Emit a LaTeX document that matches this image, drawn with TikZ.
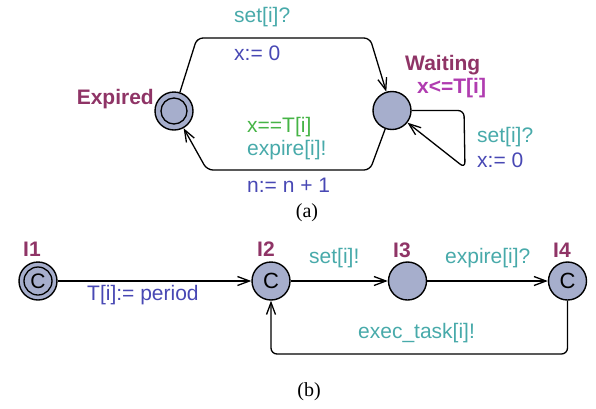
\documentclass[tikz,border=0pt]{standalone}
\usepackage{fontspec}
\setmainfont{Liberation Sans}
\newfontfamily\serifcap{Liberation Serif}
\usetikzlibrary{arrows.meta}
\definecolor{stfill}{RGB}{166,174,204}
\definecolor{tealc}{RGB}{72,170,170}
\definecolor{bluec}{RGB}{72,72,180}
\definecolor{greenc}{RGB}{70,180,70}
\definecolor{namec}{RGB}{143,52,102}
\definecolor{invc}{RGB}{176,60,176}
\begin{document}
\begin{tikzpicture}[x=1pt,y=-1pt,
  font=\fontsize{21}{25}\selectfont,
  state/.style={circle,draw=black,line width=1.4pt,fill=stfill,minimum size=38pt,inner sep=0pt},
  edge/.style={line width=1.3pt,rounded corners=6pt,-{Straight Barb[length=12pt,width=9pt,line width=1.3pt]}},
  lbl/.style={anchor=west,inner sep=0pt},
  sync/.style={lbl,text=tealc},
  upd/.style={lbl,text=bluec},
  guard/.style={lbl,text=greenc},
  sname/.style={lbl,text=namec,font=\fontsize{21}{25}\selectfont\bfseries},
  inv/.style={lbl,text=invc,font=\fontsize{21}{25}\selectfont\bfseries},
  committed/.style={font=\fontsize{22}{26}\selectfont},
  subcap/.style={font=\fontsize{20}{24}\serifcap}]
\useasboundingbox (0,0) rectangle (596,408);
% (a)
\node[state] (exp) at (174,111) {};
\draw[line width=1.3pt] (exp.center) circle (13pt);
\node[state] (wait) at (392,110.5) {};
\coordinate (t1) at (197,38);
\coordinate (t2) at (370,38);
\coordinate (b1) at (370,170);
\coordinate (b2) at (207,170);
\coordinate (s1) at (464,110.5);
\coordinate (s2) at (465,168);
\draw[edge] (exp) -- (t1) -- (t2) -- (wait);
\draw[edge] (wait) -- (b1) -- (b2) -- (exp);
\draw[edge] (wait.east) -- (s1) -- (s2) -- (wait);
\node[sname,anchor=east] (lexp) at (154,99) {Expired};
\node[sname] (lwait) at (405,65) {Waiting};
\node[inv] (iwait) at (417,88) {x<=T[i]};
\node[sync] (a1) at (234,17) {set[i]?};
\node[upd] (a2) at (234,53) {x:= 0};
\node[guard] (a3) at (247,127) {x==T[i]};
\node[sync] (a4) at (247,150) {expire[i]!};
\node[upd] (a5) at (247,185) {n:= n + 1};
\node[sync] (a6) at (477,137) {set[i]?};
\node[upd] (a7) at (477,160) {x:= 0};
\node[subcap] (capa) at (307,213) {(a)};
% (b)
\node[state] (i1) at (38,281) {};
\draw[line width=1.3pt] (i1.center) circle (14pt);
\node[inner sep=0pt,font=\fontsize{21}{25}\selectfont] at (i1.center) {C};
\node[state,committed] (i2) at (271,281) {C};
\node[state] (i3) at (407.5,281) {};
\node[state,committed] (i4) at (567.5,281) {C};
\coordinate (l1) at (567.5,354);
\coordinate (l2) at (271,354);
\draw[edge] (i1) -- (i2);
\draw[edge] (i2) -- (i3);
\draw[edge] (i3) -- (i4);
\draw[edge] (i4) -- (l1) -- (l2) -- (i2);
\node[sname] (li1) at (23,249) {I1};
\node[sname] (li2) at (257,249) {I2};
\node[sname] (li3) at (393,250) {I3};
\node[sname] (li4) at (553,250) {I4};
\node[upd] (b1l) at (87,295) {T[i]:= period};
\node[sync] (b2l) at (309,258) {set[i]!};
\node[sync] (b3l) at (445,258) {expire[i]?};
\node[sync] (b4l) at (358,333) {exec\_task[i]!};
\node[subcap] (capb) at (309,392) {(b)};
\end{tikzpicture}
\end{document}
